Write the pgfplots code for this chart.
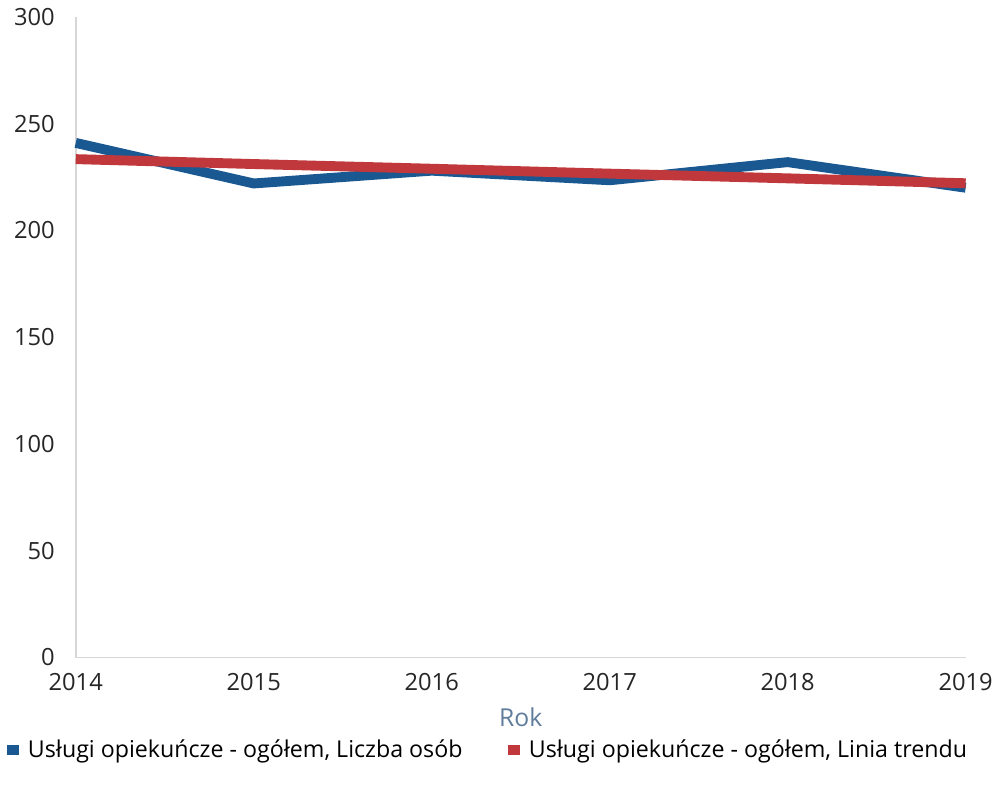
\documentclass[border=0pt]{standalone}
\usepackage{fontspec}
\setmainfont{Open Sans}
\usepackage{pgfplots}
\pgfplotsset{compat=1.18}
\definecolor{seriesblue}{RGB}{26,88,146}
\definecolor{seriesred}{RGB}{192,56,60}
\definecolor{axisgray}{RGB}{215,215,215}
\definecolor{labelblue}{RGB}{95,125,155}
\begin{document}
\begin{tikzpicture}
\begin{axis}[
    scale only axis,
    width=12.67cm, height=9.12cm,
    xmin=2014, xmax=2019,
    ymin=0, ymax=300,
    xtick={2014,2015,2016,2017,2018,2019},
    ytick={0,50,100,150,200,250,300},
    xticklabel style={/pgf/number format/1000 sep={}},
    /pgf/number format/assume math mode=true,
    axis x line=bottom, axis y line=left,
    axis line style={axisgray, line width=0.8pt, -},
    major tick length=0pt,
    tick label style={font=\fontsize{9.6}{11}\selectfont, text=black!85},
    yticklabel style={xshift=-5pt},
    xticklabel style={yshift=-3pt},
    xlabel={Rok},
    xlabel style={font=\fontsize{10}{12}\selectfont, text=labelblue, yshift=0pt},
    legend style={at={(0.5,-0.145)}, anchor=center, xshift=-0.45cm, draw=none,
        fill=none, font=\fontsize{9.4}{11}\selectfont, column sep=2pt,
        nodes={inner sep=1.5pt},
        /tikz/every even column/.append style={column sep=0.6cm}},
    legend columns=2,
    legend image code/.code={\fill[#1, draw=none] (0cm,-0.07cm) rectangle (0.17cm,0.07cm);},
    clip=false,
]
\addplot[seriesblue, line width=4pt, line join=round] coordinates {
    (2014,241) (2015,222) (2016,228) (2017,223.5) (2018,232) (2019,220)};
\addlegendentry{Usługi opiekuńcze - ogółem, Liczba osób}
\addplot[seriesred, line width=4pt, line join=round] coordinates {
    (2014,233.4) (2015,231.1) (2016,228.9) (2017,226.6) (2018,224.4) (2019,222.1)};
\addlegendentry{Usługi opiekuńcze - ogółem, Linia trendu}
\end{axis}
\path ([yshift=-0.3cm]current bounding box.south);
\end{tikzpicture}
\end{document}
